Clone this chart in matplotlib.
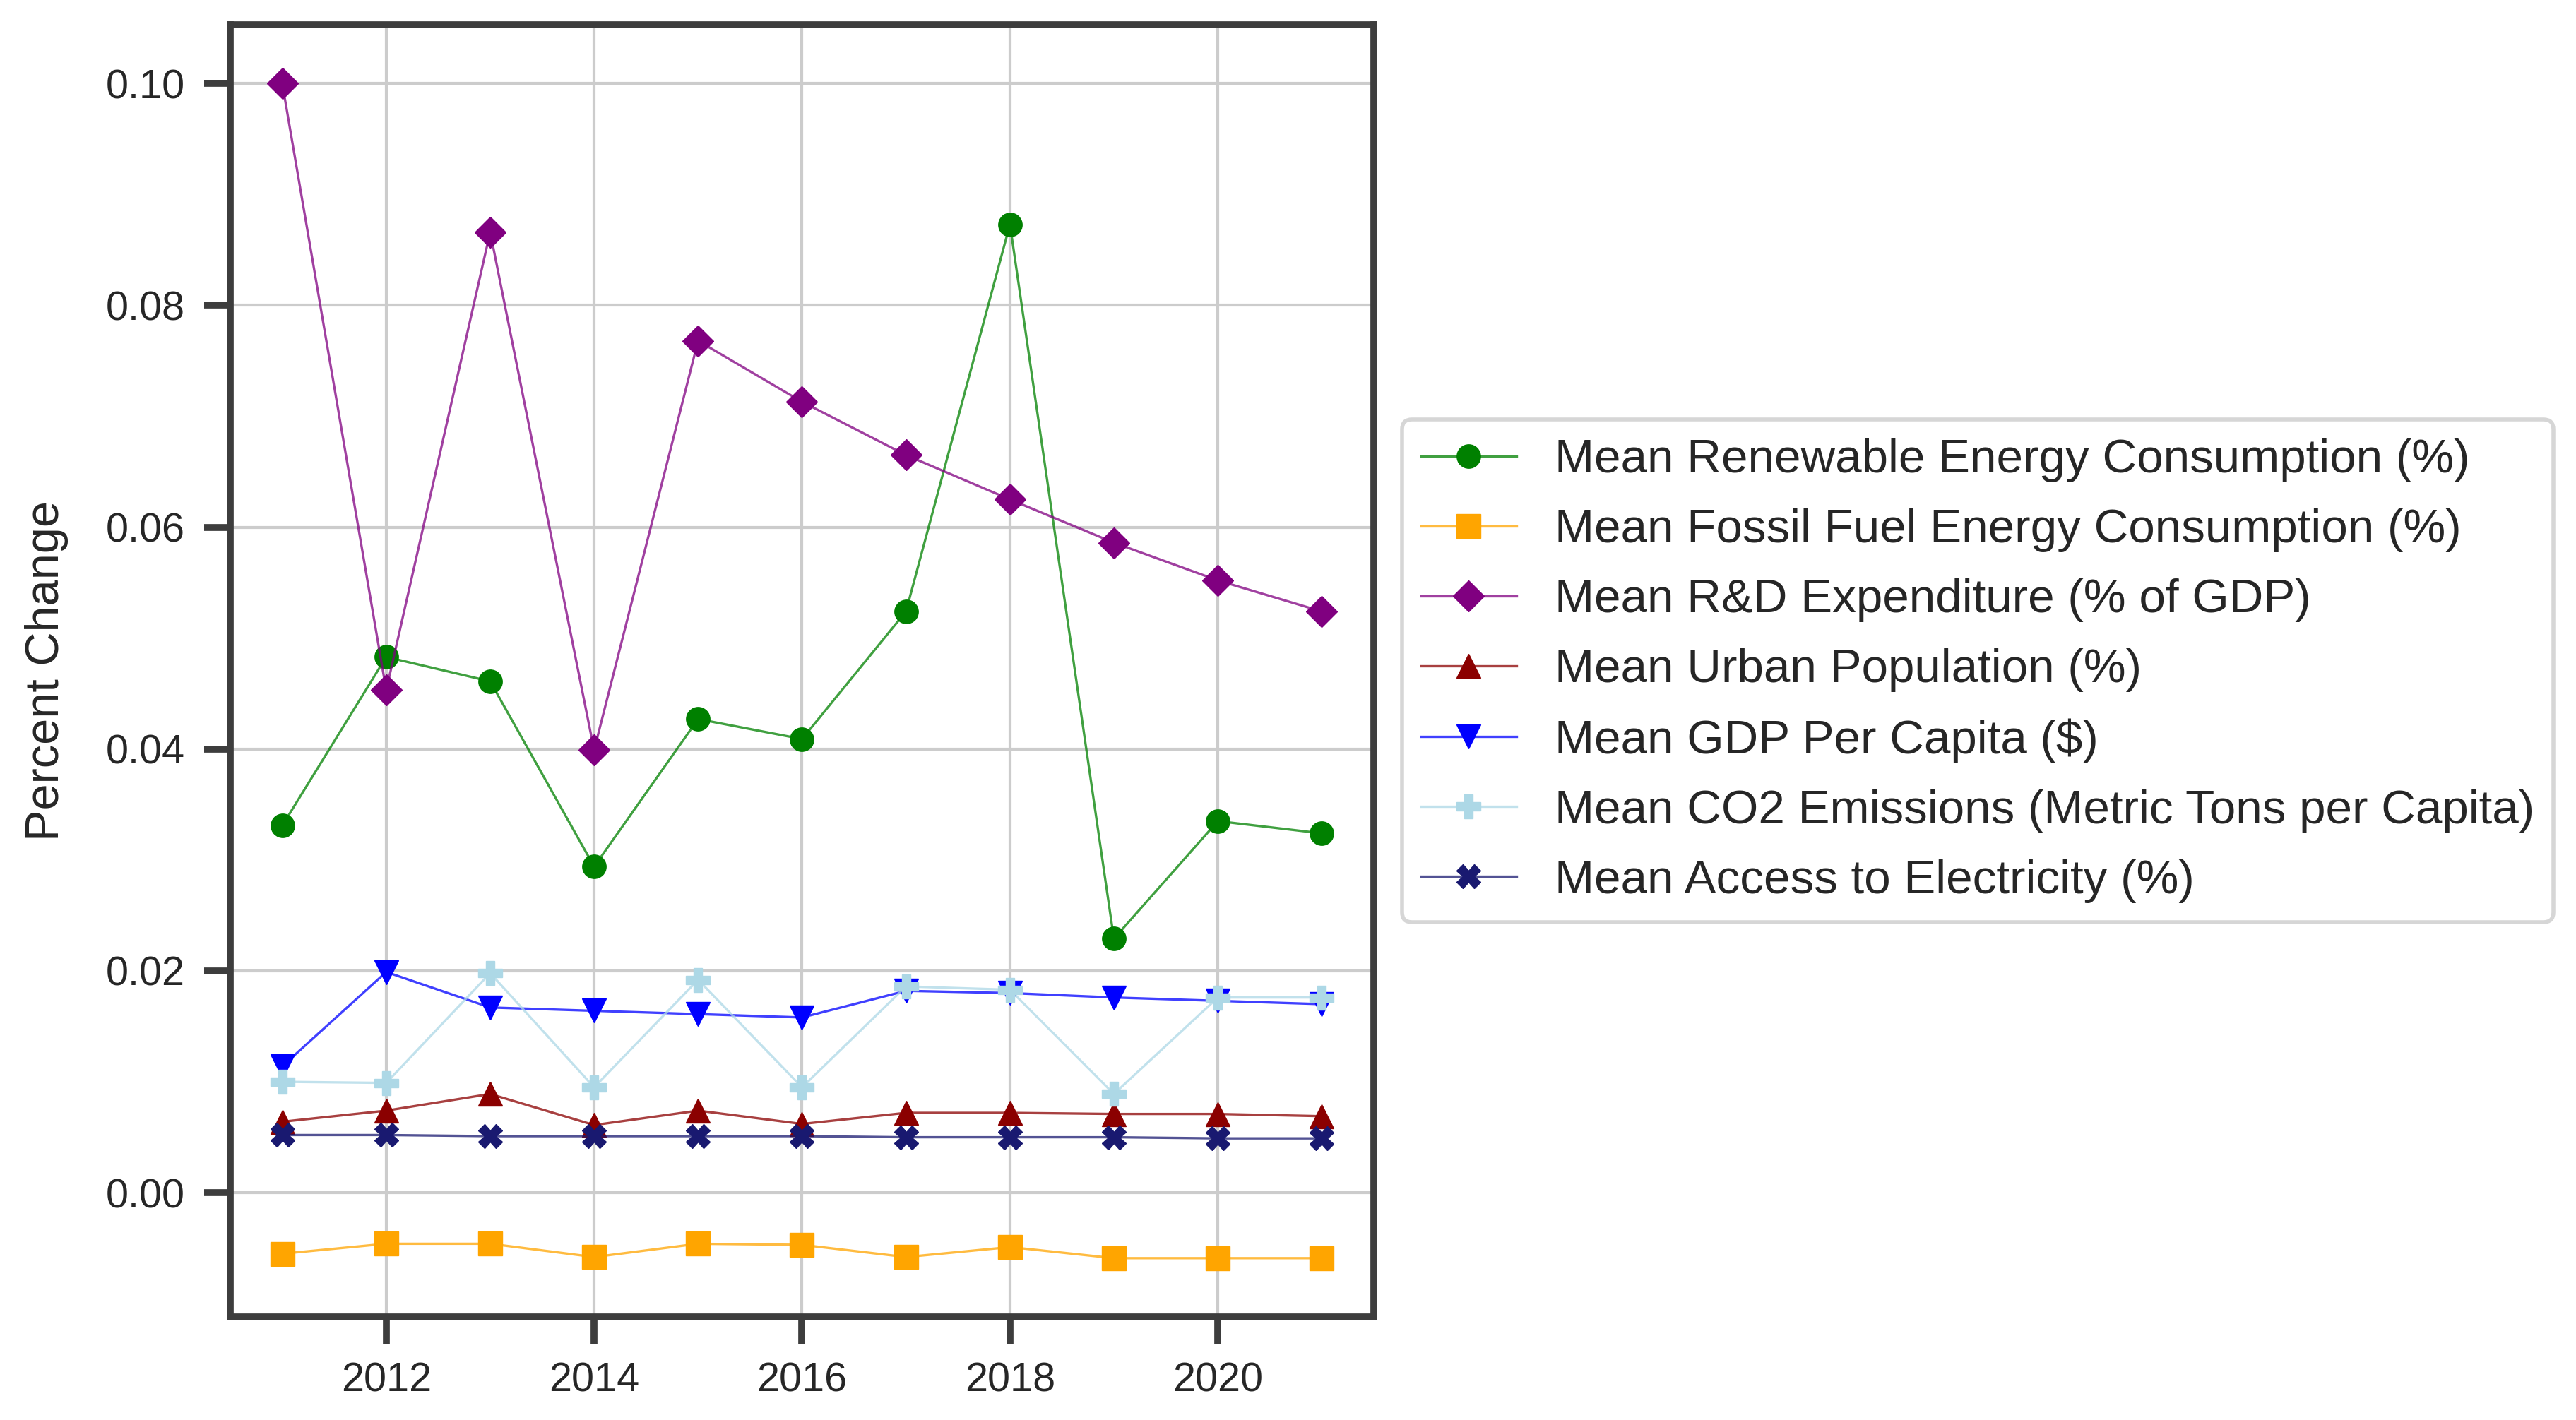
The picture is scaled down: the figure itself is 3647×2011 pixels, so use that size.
import matplotlib
matplotlib.use("Agg")
import matplotlib.pyplot as plt
from matplotlib.colors import to_rgba

years = [2011, 2012, 2013, 2014, 2015, 2016, 2017, 2018, 2019, 2020, 2021]

renewable = [0.0331, 0.0483, 0.0461, 0.0294, 0.0427, 0.0409, 0.0524, 0.0873, 0.0229, 0.0335, 0.0324]
fossil = [-0.0055, -0.0046, -0.0046, -0.0058, -0.0046, -0.0047, -0.0058, -0.0049, -0.0059, -0.0059, -0.0059]
rnd = [0.1000, 0.0453, 0.0866, 0.0399, 0.0768, 0.0713, 0.0665, 0.0625, 0.0586, 0.0552, 0.0524]
urban = [0.0064, 0.0074, 0.0089, 0.0061, 0.0074, 0.0062, 0.0072, 0.0072, 0.0071, 0.0071, 0.0069]
gdp = [0.0114, 0.0199, 0.0167, 0.0164, 0.0161, 0.0158, 0.0182, 0.0180, 0.0176, 0.0173, 0.0170]
co2 = [0.0100, 0.0099, 0.0198, 0.0095, 0.0192, 0.0095, 0.0186, 0.0183, 0.0089, 0.0176, 0.0176]
electricity = [0.0052, 0.0052, 0.0051, 0.0051, 0.0051, 0.0051, 0.0050, 0.0050, 0.0050, 0.0049, 0.0049]

series = [
    ("Mean Renewable Energy Consumption (%)", renewable, "green", "o"),
    ("Mean Fossil Fuel Energy Consumption (%)", fossil, "orange", "s"),
    ("Mean R&D Expenditure (% of GDP)", rnd, "purple", "D"),
    ("Mean Urban Population (%)", urban, "darkred", "^"),
    ("Mean GDP Per Capita ($)", gdp, "blue", "v"),
    ("Mean CO2 Emissions (Metric Tons per Capita)", co2, "lightblue", "P"),
    ("Mean Access to Electricity (%)", electricity, "midnightblue", "X"),
]

plt.rcParams["font.family"] = ["Liberation Sans", "DejaVu Sans"]
dark = "#3d3d3d"

fig = plt.figure(figsize=(36.47, 20.11), dpi=100)
ax = fig.add_axes([0.0894, 0.0726, 0.4439, 0.91])

for label, vals, col, mk in series:
    size = 22 if mk == "D" else 24
    ax.plot(years, vals, color=to_rgba(col, 0.75), marker=mk, markersize=size,
            linewidth=2.4, markerfacecolor=col, markeredgecolor=col, label=label)

ax.grid(True, color="#cccccc", linewidth=3)
ax.set_axisbelow(True)
for sp in ax.spines.values():
    sp.set_color(dark)
    sp.set_linewidth(7)
ax.tick_params(axis="both", length=27, width=7, color=dark, pad=19,
               labelsize=41.5, labelcolor="#262626")
ax.set_ylabel("Percent Change", fontsize=48, color="#262626", labelpad=38)

leg = ax.legend(loc="center left", bbox_to_anchor=(1.004, 0.5), fontsize=48.5,
                labelspacing=0.55, frameon=True, fancybox=True, labelcolor="#262626")
leg.get_frame().set_edgecolor("#cccccc")
leg.get_frame().set_linewidth(4)

fig.savefig("out.png", dpi=100)
